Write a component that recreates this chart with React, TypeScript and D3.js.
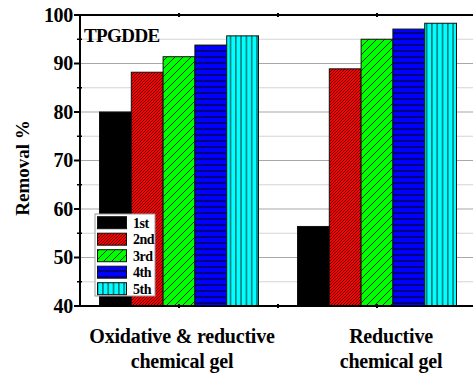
import { useEffect, useRef } from "react"
import * as d3 from "d3"

const categories = [["Oxidative & reductive", "chemical gel"], ["Reductive", "chemical gel"]]
const cycles = ["1st", "2nd", "3rd", "4th", "5th"]
const oxRed = [80.0, 88.2, 91.4, 93.8, 95.7]
const red = [56.4, 88.9, 95.0, 97.1, 98.3]
const yTicks = [40, 50, 60, 70, 80, 90, 100]

export default function App() {
  const ref = useRef<SVGSVGElement>(null)

  useEffect(() => {
    const svg = d3.select(ref.current)
    svg.selectAll("*").remove()
    const width = 473, height = 376
    const margin = { top: 15, left: 80, bottom: 70 }
    const font = "Liberation Serif, Times New Roman, Times, serif"

    const x = d3.scaleLinear().domain([0.5, 2.5]).range([margin.left, margin.left + 396])
    const y = d3.scaleLinear().domain([40, 100]).range([height - margin.bottom, margin.top])
    const barW = 31.8

    // patterns
    const defs = svg.append("defs")
    const mkPat = (id: string, bg: string, size: number, draw: (p: any) => void) => {
      const p = defs.append("pattern").attr("id", id).attr("patternUnits", "userSpaceOnUse")
        .attr("width", size).attr("height", size)
      p.append("rect").attr("width", size).attr("height", size).attr("fill", bg)
      draw(p)
    }
    mkPat("p0", "#000", 4, () => {})
    mkPat("p1", "#ff0000", 3, p => {
      p.append("path").attr("d", "M0,3 L3,0 M-1,1 L1,-1 M2,4 L4,2").attr("stroke", "#400").attr("stroke-width", 0.9)
    })
    mkPat("p2", "#00ff00", 8, p => {
      p.append("path").attr("d", "M0,8 L8,0 M-2,2 L2,-2 M6,10 L10,6").attr("stroke", "#000").attr("stroke-width", 0.8)
    })
    mkPat("p3", "#0000ff", 6, p => {
      p.append("path").attr("d", "M0,3 L6,3").attr("stroke", "#000").attr("stroke-width", 1)
    })
    mkPat("p4", "#00ffff", 5.3, p => {
      p.append("path").attr("d", "M2.6,0 L2.6,6").attr("stroke", "#006868").attr("stroke-width", 1.4)
    })

    // gridlines
    const grid = d3.range(45, 100, 5)
    svg.append("g").selectAll("line").data(grid).join("line")
      .attr("x1", margin.left).attr("x2", width)
      .attr("y1", d => y(d)).attr("y2", d => y(d))
      .attr("stroke", d => d % 10 === 0 ? "#a8a8a8" : "#d4d4d4")
      .attr("stroke-width", 1.2)

    // bars
    const groups = [oxRed, red]
    groups.forEach((vals, gi) => {
      const cx = x(gi + 1)
      svg.append("g").selectAll("rect").data(vals).join("rect")
        .attr("x", (_, i) => cx - 2.5 * barW + i * barW)
        .attr("y", d => y(d))
        .attr("width", barW)
        .attr("height", d => y(40) - y(d))
        .attr("fill", (_, i) => `url(#p${i})`)
        .attr("stroke", "#111")
        .attr("stroke-width", 1)
    })

    // axes
    const bottom = y(40)
    svg.append("line").attr("x1", margin.left).attr("x2", width).attr("y1", bottom).attr("y2", bottom)
      .attr("stroke", "#000").attr("stroke-width", 2)
    svg.append("line").attr("x1", margin.left).attr("x2", width).attr("y1", y(100)).attr("y2", y(100))
      .attr("stroke", "#000").attr("stroke-width", 2)
    svg.append("line").attr("x1", margin.left).attr("x2", margin.left).attr("y1", y(100) - 1).attr("y2", bottom + 1)
      .attr("stroke", "#000").attr("stroke-width", 2)

    // x ticks (top & bottom)
    const xt = [1, 1.5, 2]
    svg.append("g").selectAll("line").data(xt).join("line")
      .attr("x1", d => x(d)).attr("x2", d => x(d))
      .attr("y1", y(100) - 2).attr("y2", y(100) + 2).attr("stroke", "#000").attr("stroke-width", 2)
    svg.append("g").selectAll("line").data(xt).join("line")
      .attr("x1", d => x(d)).attr("x2", d => x(d))
      .attr("y1", bottom - 2).attr("y2", bottom + 2).attr("stroke", "#000").attr("stroke-width", 2)

    // y ticks
    svg.append("g").selectAll("line").data(yTicks).join("line")
      .attr("x1", margin.left - 6).attr("x2", margin.left)
      .attr("y1", d => y(d)).attr("y2", d => y(d)).attr("stroke", "#000").attr("stroke-width", 2)
    svg.append("g").selectAll("line").data(d3.range(45, 100, 10)).join("line")
      .attr("x1", margin.left - 3).attr("x2", margin.left + 2)
      .attr("y1", d => y(d)).attr("y2", d => y(d)).attr("stroke", "#000").attr("stroke-width", 1.5)
    svg.append("g").selectAll("text").data(yTicks).join("text")
      .attr("x", margin.left - 7).attr("y", d => y(d) + 6.5)
      .attr("text-anchor", "end").style("font-family", font).style("font-weight", "bold")
      .style("font-size", "20px").attr("letter-spacing", -0.3).text(d => d)

    // y label
    svg.append("text")
      .attr("transform", `translate(29,168) rotate(-90)`)
      .attr("text-anchor", "middle").style("font-family", font).style("font-weight", "bold")
      .style("font-size", "19px").text("Removal %")

    // category labels
    const labelX = [182, 391]
    categories.forEach((lines, gi) => {
      lines.forEach((t, li) => {
        svg.append("text").attr("x", labelX[gi]).attr("y", 343 + li * 25)
          .attr("text-anchor", "middle").style("font-family", font).style("font-weight", "bold")
          .style("font-size", "20px").attr("letter-spacing", -0.2).text(t)
      })
    })

    // sample name
    svg.append("text").attr("x", 84).attr("y", 42)
      .style("font-family", font).style("font-weight", "bold").style("font-size", "19px")
      .attr("letter-spacing", -0.6).text("TPGDDE")

    // legend
    const lg = svg.append("g").attr("transform", "translate(95,214)")
    lg.append("rect").attr("width", 60).attr("height", 82).attr("fill", "#fff")
      .attr("stroke", "#999").attr("stroke-width", 1)
    cycles.forEach((c, i) => {
      const cy = 8.7 + i * 16.5
      lg.append("rect").attr("x", 2.5).attr("y", cy - 6).attr("width", 29).attr("height", 12)
        .attr("fill", `url(#p${i})`).attr("stroke", "#111").attr("stroke-width", 1)
      lg.append("text").attr("x", 38).attr("y", cy + 5).style("font-family", font)
        .style("font-weight", "bold").style("font-size", "14px").attr("letter-spacing", -0.5).text(c)
    })
  }, [])

  return <svg ref={ref} width={473} height={376} style={{ position: "absolute", left: 0, top: 0, background: "#fff" }} />
}
